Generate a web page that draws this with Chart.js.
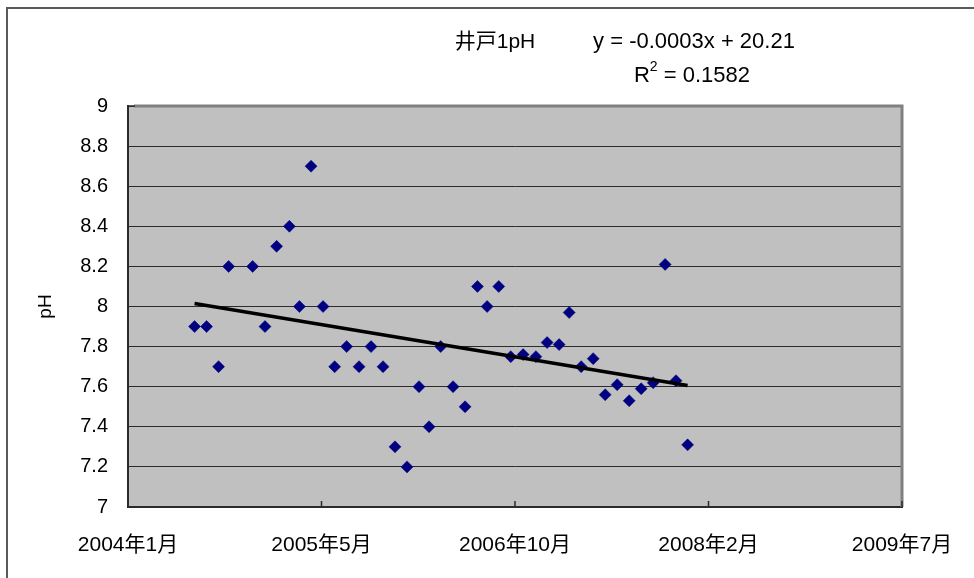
<!DOCTYPE html>
<html lang="ja">
<head>
<meta charset="utf-8">
<title>井戸1pH</title>
<script src="https://cdn.jsdelivr.net/npm/chart.js@4.4.1/dist/chart.umd.min.js"></script>
<style>
  html, body { margin: 0; padding: 0; background: #fff; }
  .chart-container { position: relative; width: 974px; height: 578px; }
  .chart-container::before {
    content: ""; position: absolute; left: 6px; top: 7px; right: 0; bottom: 0;
    border-left: 2px solid #5a5a5a; border-top: 2px solid #5a5a5a;
    pointer-events: none;
  }
</style>
</head>
<body>
<div class="chart-container"><canvas id="phChart"></canvas></div>
<script>
// sample dates and pH readings
const sampleDates = [
  "2004-07-04", "2004-08-04", "2004-09-04", "2004-09-30", "2004-12-01", "2005-01-02",
  "2005-02-01", "2005-03-06", "2005-04-01", "2005-05-01", "2005-06-01", "2005-07-01",
  "2005-08-01", "2005-09-02", "2005-10-03", "2005-11-03", "2005-12-04", "2006-01-04",
  "2006-02-04", "2006-03-02", "2006-04-01", "2006-05-03", "2006-06-03", "2006-07-05",
  "2006-07-30", "2006-08-29", "2006-09-29", "2006-10-31", "2006-12-03", "2007-01-01",
  "2007-02-01", "2007-02-27", "2007-03-30", "2007-04-30", "2007-05-31", "2007-07-01",
  "2007-08-01", "2007-09-01", "2007-10-02", "2007-11-02", "2007-11-30", "2007-12-30"
];
const phValues = [
  7.90, 7.90, 7.70, 8.20, 8.20, 7.90,
  8.30, 8.40, 8.00, 8.70, 8.00, 7.70,
  7.80, 7.70, 7.80, 7.70, 7.30, 7.20,
  7.60, 7.40, 7.80, 7.60, 7.50, 8.10,
  8.00, 8.10, 7.75, 7.76, 7.75, 7.82,
  7.81, 7.97, 7.70, 7.74, 7.56, 7.61,
  7.53, 7.59, 7.62, 8.21, 7.63, 7.31
];
// x axis in Excel date serials
const xAxisMin = 38000;
const xAxisMax = 40000;
const xAxisStep = 500;
const yAxisMin = 7;
const yAxisMax = 9;
const yAxisStep = 0.2;

const chartTitle = "井戸1pH";
const trendEquation = "y = -0.0003x + 20.21";
const trendR2 = "0.1582";

const FONT = "'Liberation Sans', 'Noto Sans CJK JP', Arial, sans-serif";

function toSerial(dateStr) {
  const [y, m, d] = dateStr.split("-").map(Number);
  return Math.round((Date.UTC(y, m - 1, d) - Date.UTC(1899, 11, 30)) / 86400000);
}

function serialLabel(serial) {
  const dt = new Date(Date.UTC(1899, 11, 30) + serial * 86400000);
  return dt.getUTCFullYear() + "年" + (dt.getUTCMonth() + 1) + "月";
}

const points = sampleDates.map((d, i) => ({ x: toSerial(d), y: phValues[i] }));

// least squares trend, drawn over the span of the data like Excel does
function linearTrend(pts) {
  const n = pts.length;
  let sx = 0, sy = 0, sxx = 0, sxy = 0;
  pts.forEach((p) => { sx += p.x; sy += p.y; sxx += p.x * p.x; sxy += p.x * p.y; });
  const slope = (n * sxy - sx * sy) / (n * sxx - sx * sx);
  const icpt = (sy - slope * sx) / n;
  const xs = pts.map((p) => p.x);
  const x0 = Math.min(...xs), x1 = Math.max(...xs);
  return [{ x: x0, y: icpt + slope * x0 }, { x: x1, y: icpt + slope * x1 }];
}

const plotFrame = {
  id: "plotFrame",
  beforeDraw(chart) {
    const { ctx, chartArea: a } = chart;
    ctx.save();
    ctx.fillStyle = "#c0c0c0";
    ctx.fillRect(a.left, a.top, a.right - a.left, a.bottom - a.top);
    ctx.restore();
  },
  beforeDatasetsDraw(chart) {
    const { ctx, chartArea: a, scales } = chart;
    ctx.save();
    ctx.strokeStyle = "#808080";
    ctx.lineWidth = 3;
    ctx.beginPath();
    ctx.moveTo(a.left + 6, a.top);
    ctx.lineTo(a.right, a.top);
    ctx.lineTo(a.right, a.bottom);
    ctx.stroke();
    // inside tick marks on the date axis
    ctx.strokeStyle = "#2b2b2b";
    ctx.lineWidth = 1.5;
    scales.x.ticks.forEach((t) => {
      const px = scales.x.getPixelForValue(t.value);
      ctx.beginPath();
      ctx.moveTo(px, a.bottom);
      ctx.lineTo(px, a.bottom - 6);
      ctx.stroke();
    });
    ctx.beginPath();
    ctx.moveTo(a.left, a.top);
    ctx.lineTo(a.left + 7, a.top);
    ctx.stroke();
    ctx.restore();
  },
  afterDraw(chart) {
    const { ctx } = chart;
    ctx.save();
    ctx.fillStyle = "#000";
    ctx.textBaseline = "middle";
    ctx.font = "21px " + FONT;
    ctx.textAlign = "center";
    ctx.fillText(chartTitle, 495, 42);
    ctx.font = "22px " + FONT;
    ctx.fillText(trendEquation, 694, 42);
    // R² line
    const rPart = "R", tail = " = " + trendR2;
    const wR = ctx.measureText(rPart).width;
    const wT = ctx.measureText(tail).width;
    ctx.font = "14px " + FONT;
    const wS = ctx.measureText("2").width;
    const total = wR + wS + wT;
    let x = 692 - total / 2;
    ctx.textAlign = "left";
    ctx.font = "22px " + FONT;
    ctx.fillText(rPart, x, 76);
    x += wR;
    ctx.font = "14px " + FONT;
    ctx.fillText("2", x, 67);
    x += wS;
    ctx.font = "22px " + FONT;
    ctx.fillText(tail, x, 76);
    ctx.restore();
  },
};

function buildPhChart(ctx) {
  return new Chart(ctx, {
    type: "scatter",
    data: {
      datasets: [
        {
          type: "line",
          label: "trend",
          data: linearTrend(points),
          borderColor: "#000",
          borderWidth: 3.5,
          pointRadius: 0,
          fill: false,
          order: 0,
        },
        {
          label: "pH",
          data: points,
          pointStyle: "rectRot",
          pointRadius: 6,
          backgroundColor: "#000080",
          borderColor: "#000080",
          borderWidth: 0.5,
          order: 1,
        },
      ],
    },
    options: {
      responsive: true,
      maintainAspectRatio: false,
      animation: false,
      layout: { padding: { top: 106, right: 72, bottom: 0, left: 0 } },
      plugins: {
        legend: { display: false },
        tooltip: { enabled: false },
      },
      scales: {
        x: {
          type: "linear",
          min: xAxisMin,
          max: xAxisMax,
          grid: { display: false, drawTicks: false },
          border: { color: "#2b2b2b", width: 2 },
          afterFit: (scale) => {
            scale.height = 71;
            scale.paddingLeft = 0;
            scale.paddingRight = 0;
          },
          ticks: {
            stepSize: xAxisStep,
            padding: 26,
            maxRotation: 0,
            autoSkip: false,
            color: "#000",
            font: { family: FONT, size: 21 },
            callback: (v) => serialLabel(v),
          },
        },
        y: {
          min: yAxisMin,
          max: yAxisMax,
          grid: { color: "#2b2b2b", lineWidth: 1, drawTicks: false },
          border: { color: "#2b2b2b", width: 2 },
          afterFit: (scale) => { scale.width = 128; },
          ticks: {
            stepSize: yAxisStep,
            padding: 20,
            color: "#000",
            font: { family: FONT, size: 20 },
            callback: (v) => String(Math.round(v * 10) / 10),
          },
          title: {
            display: true,
            text: "pH",
            color: "#000",
            font: { family: FONT, size: 19 },
            padding: { top: 34, bottom: 0 },
          },
        },
      },
    },
    plugins: [plotFrame],
  });
}

function initChart() {
  const el = document.getElementById("phChart");
  if (!el) return;
  buildPhChart(el.getContext("2d"));
}

if (document.readyState === "loading") {
  document.addEventListener("DOMContentLoaded", initChart);
} else {
  initChart();
}
</script>
</body>
</html>
